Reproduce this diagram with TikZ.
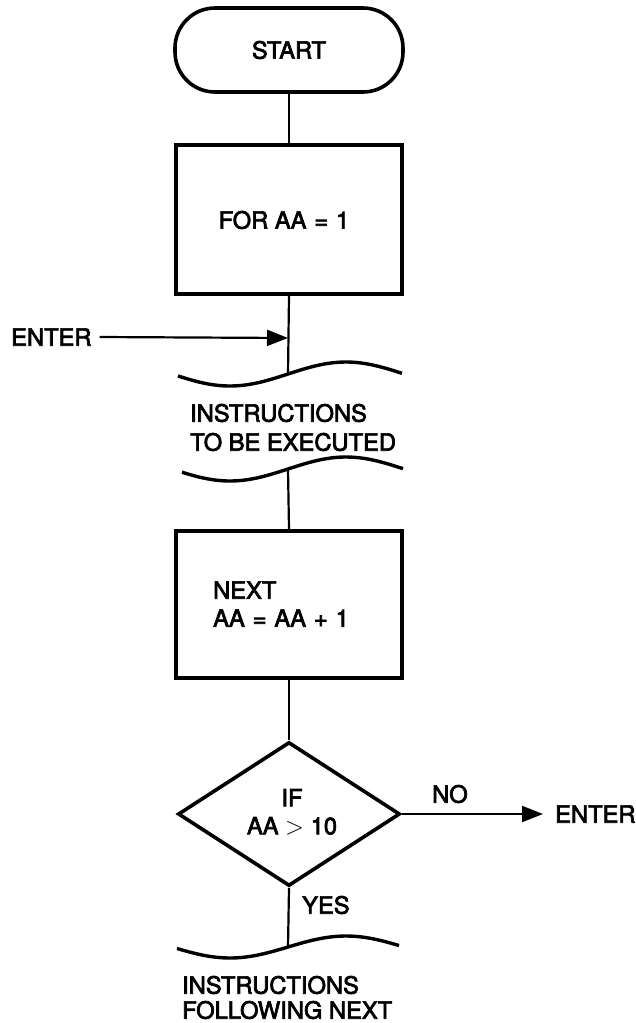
\documentclass[tikz,border=0pt]{standalone}
\usepackage{fontspec}
\setmainfont[FakeBold=3,AutoFakeBold=3]{TeX Gyre Heros}
\usetikzlibrary{shapes.geometric,arrows.meta}
\begin{document}
\begin{tikzpicture}[x=1pt,y=-1pt,
  every node/.style={font=\fontsize{23.7}{29}\selectfont\bfseries},
  boxstyle/.style={draw,line width=3.6pt,rectangle,minimum width=226pt,inner sep=0pt},
  termstyle/.style={draw,line width=3.6pt,rectangle,rounded corners=40pt,minimum width=228pt,minimum height=84pt,inner sep=0pt},
  decstyle/.style={draw,line width=3.6pt,diamond,minimum width=222pt,minimum height=144pt,inner sep=0pt},
  conn/.style={line width=2.2pt},
  arr/.style={line width=2.2pt,-{Triangle[length=21pt,width=16pt]}},
  wave/.style={line width=3.4pt},
  txt/.style={inner sep=0pt,align=left}]
\useasboundingbox (0,0) rectangle (636,1023);
% START
\node[termstyle] (start) at (289,50) {START};
% FOR box
\node[boxstyle,minimum height=149pt] (for) at (289,219.5) {};
\node[txt] (fortext) at (284,220) {FOR AA\,\,=\,\,1};
% wave 1
\draw[wave] plot[domain=178:402,samples=60] (\x,{374-12*sin((\x-288)*1.5517)});
\coordinate (w1) at (288,374);
\node[txt,anchor=west] (instr1) at (190,427.5) {INSTRUCTIONS\\TO BE EXECUTED};
% wave 2
\draw[wave] plot[domain=182:403,samples=60] (\x,{469-12*sin((\x-288)*1.5517)});
\coordinate (w2) at (288,469);
% NEXT box
\node[boxstyle,minimum height=147pt] (next) at (289,604.5) {};
\node[txt,anchor=west,font=\fontsize{23.7}{28}\selectfont\bfseries] (nexttext) at (213,604) {NEXT\\AA\,\,=\,\,AA\,\,+\,\,1};
% decision
\node[decstyle] (dec) at (289,814) {};
\node[txt,align=center,font=\fontsize{23.7}{28}\selectfont\bfseries] (dectext) at (292,812) {IF\\AA $>$ 10};
% wave 3
\draw[wave] plot[domain=177:399,samples=60] (\x,{947-11*sin((\x-288)*1.5517)});
\coordinate (w3) at (288,947);
\node[txt,anchor=west,font=\fontsize{23.7}{25}\selectfont\bfseries] (instr2) at (182,997.5) {INSTRUCTIONS\\FOLLOWING NEXT};
% ENTER left
\node[txt,anchor=west] (enter1) at (11,337) {ENTER};
\coordinate (e1tip) at (288,338);
% ENTER right
\node[txt,anchor=west] (enter2) at (555,814) {ENTER};
% labels
\node[txt,anchor=west] (no) at (432,794) {NO};
\node[txt,anchor=west] (yes) at (302,905) {YES};
% connectors
\draw[conn] (start.south) -- (for.north);
\draw[conn] (for.south) -- (w1);
\draw[conn] (w2) -- (next.north);
\draw[conn] (next.south) -- (dec.north);
\draw[conn] (dec.south) -- (w3);
\draw[arr] ([xshift=8pt]enter1.east) -- (e1tip);
\draw[arr] (dec.east) -- ([xshift=-12pt]enter2.west);
\end{tikzpicture}
\end{document}
